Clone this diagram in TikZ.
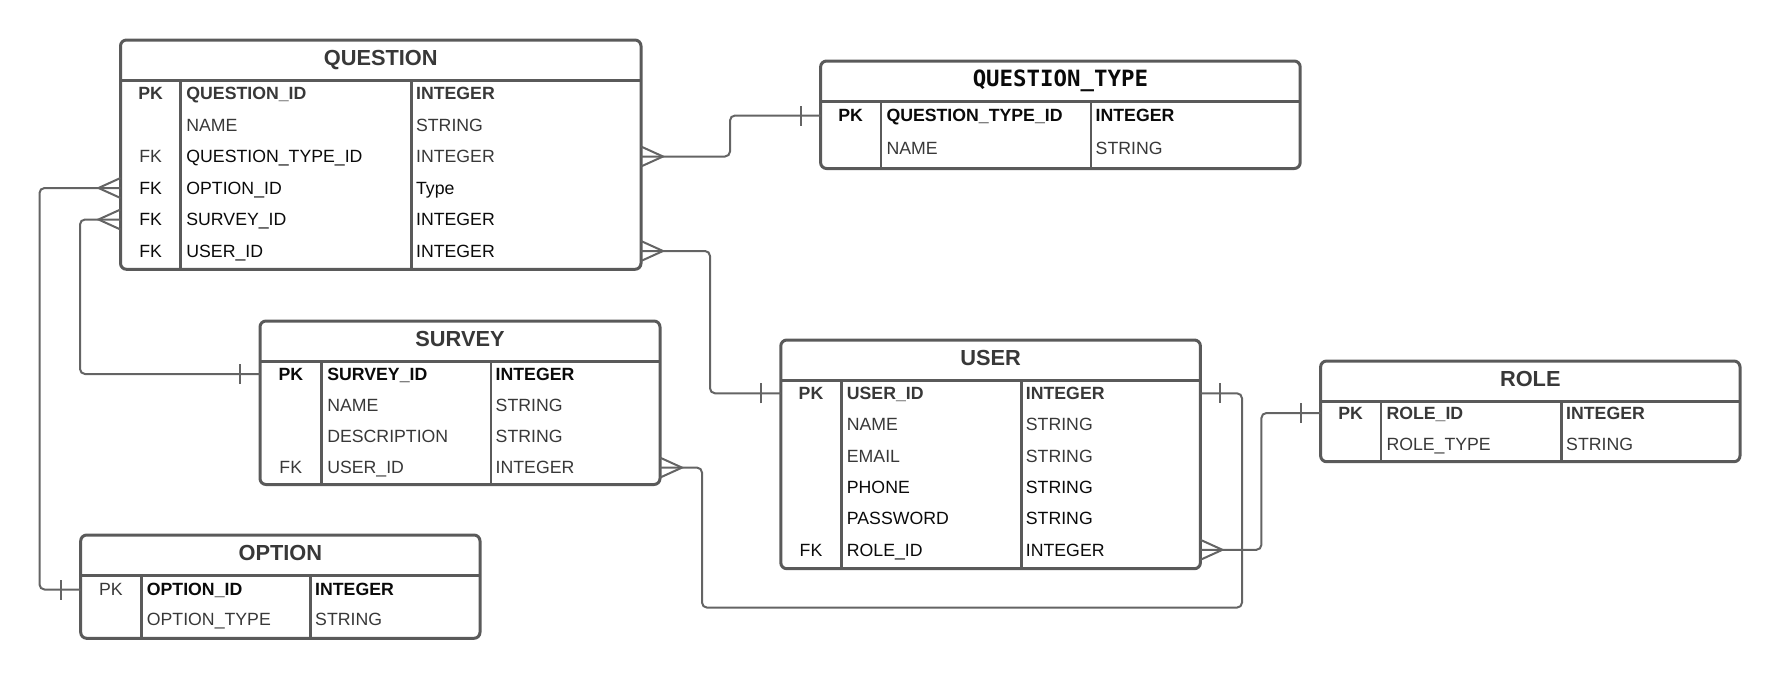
\documentclass[tikz,border=0pt]{standalone}
\usepackage{fontspec}
\setmainfont{Liberation Sans}
\newfontfamily\titlemono{DejaVu Sans Mono}
\usetikzlibrary{calc}

\definecolor{framegrey}{HTML}{5A5A5A}
\definecolor{linkgrey}{HTML}{646464}
\definecolor{textgrey}{HTML}{383838}
\definecolor{textdark}{HTML}{0A0A0A}

\newcommand{\darkt}[1]{\textcolor{textdark}{#1}}
\newcommand{\fieldsize}{\fontsize{17.7}{20}\selectfont}
\newcommand{\titlesize}{\fontsize{21.8}{24}\selectfont}

\tikzset{
  table frame/.style={draw=framegrey, line width=3pt, rounded corners=6pt, inner sep=0pt, outer sep=0pt, anchor=north west},
  table rule/.style={draw=framegrey, line width=3pt},
  col rule/.style={draw=framegrey, line width=2.6pt},
  title text/.style={text=textgrey, font=\titlesize\bfseries, inner sep=0pt, anchor=base},
  field text/.style={text=textgrey, font=\fieldsize, inner sep=0pt},
  link/.style={draw=linkgrey, line width=2pt, rounded corners=5pt},
  foot/.style={draw=linkgrey, line width=2pt},
  many/.pic={\draw[foot] (0,-10) -- (22,0) -- (0,10);},
  one/.pic={\draw[foot] (20,-10) -- (20,10);}
}

% table: name, left, top, right, bottom, column 1, column 2, title
\newcommand{\ertable}[8]{%
  \node[table frame, minimum width={(#4-#2)*1pt}, minimum height={(#5-#3)*1pt}] (#1) at (#2,#3) {};
  \draw[table rule] (#2,#3+40.5) -- (#4,#3+40.5);
  \draw[col rule] (#6,#3+40.5) -- (#6,#5);
  \draw[col rule] (#7,#3+40.5) -- (#7,#5);
  \node[title text] (#1-title) at ({(#2+#4)/2},#3+25.8) {#8};
  \def\entleft{#2}\def\entcolA{#6}\def\entcolB{#7}%
}
% row: name, y, key, field, type
\newcommand{\errow}[5]{%
  \coordinate (#1) at (\entleft,#2);
  \node[field text, anchor=base] (#1-key) at ({(\entleft+\entcolA)/2},#2+6.3) {#3};
  \node[field text, anchor=base west] (#1-name) at (\entcolA+5.5,#2+6.3) {#4};
  \node[field text, anchor=base west] (#1-type) at (\entcolB+4.5,#2+6.3) {#5};
}

\begin{document}
\begin{tikzpicture}[x=1pt, y=-1pt]
  \useasboundingbox (0,0) rectangle (1782,678);

  % QUESTION
  \ertable{question}{120.5}{40}{641}{269.3}{180.7}{411.4}{QUESTION}
  \errow{question-1}{93.5}{\textbf{PK}}{\textbf{QUESTION\_ID}}{\textbf{INTEGER}}
  \errow{question-2}{125}{}{NAME}{STRING}
  \errow{question-3}{156.5}{FK}{\darkt{QUESTION\_TYPE\_ID}}{INTEGER}
  \errow{question-4}{188}{\darkt{FK}}{\darkt{OPTION\_ID}}{\darkt{Type}}
  \errow{question-5}{219.5}{\darkt{FK}}{\darkt{SURVEY\_ID}}{\darkt{INTEGER}}
  \errow{question-6}{251}{\darkt{FK}}{\darkt{USER\_ID}}{\darkt{INTEGER}}

  % QUESTION_TYPE
  \ertable{qtype}{820.6}{61}{1300.2}{168.5}{880.8}{1091}{\darkt{\titlemono\fontsize{22.4}{26}\selectfont\bfseries QUESTION\_TYPE}}
  \errow{qtype-1}{115.5}{\darkt{\textbf{PK}}}{\darkt{\textbf{QUESTION\_TYPE\_ID}}}{\darkt{\textbf{INTEGER}}}
  \errow{qtype-2}{148.5}{}{NAME}{STRING}

  % SURVEY
  \ertable{survey}{260}{321}{660}{484.5}{321.6}{491}{SURVEY}
  \errow{survey-1}{374}{\darkt{\textbf{PK}}}{\darkt{\textbf{SURVEY\_ID}}}{\darkt{\textbf{INTEGER}}}
  \errow{survey-2}{405.2}{}{NAME}{STRING}
  \errow{survey-3}{436.4}{}{DESCRIPTION}{STRING}
  \errow{survey-4}{467.6}{FK}{USER\_ID}{INTEGER}

  % USER
  \ertable{user}{780.8}{340}{1200.4}{568.7}{841.2}{1021.2}{USER}
  \errow{user-1}{393.3}{\textbf{PK}}{\textbf{USER\_ID}}{\textbf{INTEGER}}
  \errow{user-2}{424.6}{}{NAME}{STRING}
  \errow{user-3}{455.9}{}{EMAIL}{STRING}
  \errow{user-4}{487.2}{}{\darkt{PHONE}}{\darkt{STRING}}
  \errow{user-5}{518.5}{}{\darkt{PASSWORD}}{\darkt{STRING}}
  \errow{user-6}{549.8}{\darkt{FK}}{\darkt{ROLE\_ID}}{\darkt{INTEGER}}

  % ROLE
  \ertable{role}{1320.6}{361}{1740}{461.7}{1380.8}{1561.5}{ROLE}
  \errow{role-1}{413}{\textbf{PK}}{\textbf{ROLE\_ID}}{\textbf{INTEGER}}
  \errow{role-2}{444}{}{ROLE\_TYPE}{STRING}

  % OPTION
  \ertable{option}{80.7}{535}{480}{638.3}{141.2}{310.5}{OPTION}
  \errow{option-1}{589.5}{PK}{\darkt{\textbf{OPTION\_ID}}}{\darkt{\textbf{INTEGER}}}
  \errow{option-2}{619}{}{OPTION\_TYPE}{STRING}

  % relations
  \draw[link] (question.east |- question-3) -- ++(89,0) |- (qtype.west |- qtype-1);
  \draw[link] (question.east |- question-6) -- ++(69,0) |- (user.west |- user-1);
  \draw[link] (question.west |- question-4) -- ++(-81,0) |- (option.west |- option-1);
  \draw[link] (question.west |- question-5) -- ++(-40.5,0) |- (survey.west |- survey-1);
  \draw[link] (survey.east |- survey-4) -- ++(42,0) |- ++(540,140) |- (user.east |- user-1);
  \draw[link] (user.east |- user-6) -- ++(61,0) |- (role.west |- role-1);

  % many ends
  \path (question.east |- question-3) pic {many};
  \path (question.east |- question-6) pic {many};
  \path (question.west |- question-4) pic[rotate=180] {many};
  \path (question.west |- question-5) pic[rotate=180] {many};
  \path (survey.east |- survey-4) pic {many};
  \path (user.east |- user-6) pic {many};

  % one ends
  \path (qtype.west |- qtype-1) pic[rotate=180] {one};
  \path (user.west |- user-1) pic[rotate=180] {one};
  \path (option.west |- option-1) pic[rotate=180] {one};
  \path (survey.west |- survey-1) pic[rotate=180] {one};
  \path (user.east |- user-1) pic {one};
  \path (role.west |- role-1) pic[rotate=180] {one};
\end{tikzpicture}
\end{document}
